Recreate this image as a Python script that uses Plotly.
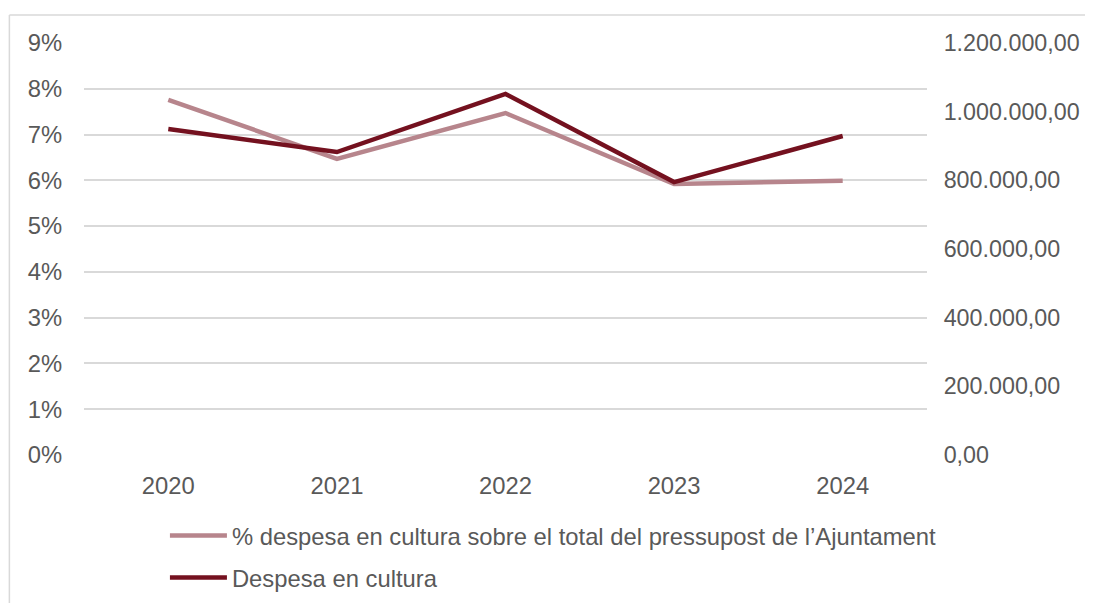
import plotly.graph_objects as go

years = ["2020", "2021", "2022", "2023", "2024"]
pct_cultura = [0.0776, 0.0647, 0.0747, 0.0592, 0.0599]
despesa_cultura = [949500, 882500, 1051500, 795000, 929000]

name_pct = "% despesa en cultura sobre el total del pressupost de l\u2019Ajuntament"
name_desp = "Despesa en cultura"

PINK = "#b7858c"
DARK = "#74111f"
GRID = "#d9d9d9"
TXT = "#595959"
FS = 23.8

fig = go.Figure()
fig.add_trace(go.Scatter(x=years, y=pct_cultura, name=name_pct, mode="lines",
                         line=dict(color=PINK, width=4.5), legendgroup="a"))
fig.add_trace(go.Scatter(x=years, y=despesa_cultura, name=name_desp, mode="lines",
                         line=dict(color=DARK, width=4.5), yaxis="y2", legendgroup="b"))

fig.update_layout(
    width=1093, height=603,
    margin=dict(l=76, r=174, t=35, b=156, autoexpand=False),
    paper_bgcolor="white", plot_bgcolor="white",
    separators=",.",
    font=dict(family="Liberation Sans, Arial, sans-serif", size=FS, color=TXT),
    xaxis=dict(range=[-0.5, 4.5], showgrid=False, showline=False, zeroline=False,
               ticks="outside", ticklen=9, tickcolor="rgba(0,0,0,0)",
               tickfont=dict(size=FS, color=TXT), automargin=False),
    yaxis=dict(range=[0, 0.09], dtick=0.01, tickformat=".0%",
               showgrid=True, gridcolor=GRID, gridwidth=1.5, zeroline=False, showline=False,
               ticks="outside", ticklen=16, tickcolor="rgba(0,0,0,0)",
               tickfont=dict(size=FS, color=TXT), automargin=False),
    yaxis2=dict(range=[0, 1200000], dtick=200000, tickformat=",.2f",
                overlaying="y", side="right", showgrid=False, zeroline=False, showline=False,
                ticks="outside", ticklen=11, tickcolor="rgba(0,0,0,0)",
                tickfont=dict(size=23.3, color=TXT), automargin=False),
    showlegend=True,
    legend=dict(orientation="v", x=0.0960, xanchor="left", y=-0.1420, yanchor="top",
                font=dict(size=FS, color=TXT), tracegroupgap=8, itemwidth=57,
                bgcolor="rgba(0,0,0,0)"),
    shapes=[
        dict(type="line", xref="paper", yref="paper", x0=-0.0885, x1=1.3, y0=1.068, y1=1.068,
             line=dict(color=GRID, width=1.5)),
        dict(type="line", xref="paper", yref="paper", x0=-0.0885, x1=-0.0885, y0=1.068, y1=-0.4,
             line=dict(color=GRID, width=1.5)),
    ],
)

fig.write_html("out.html")
